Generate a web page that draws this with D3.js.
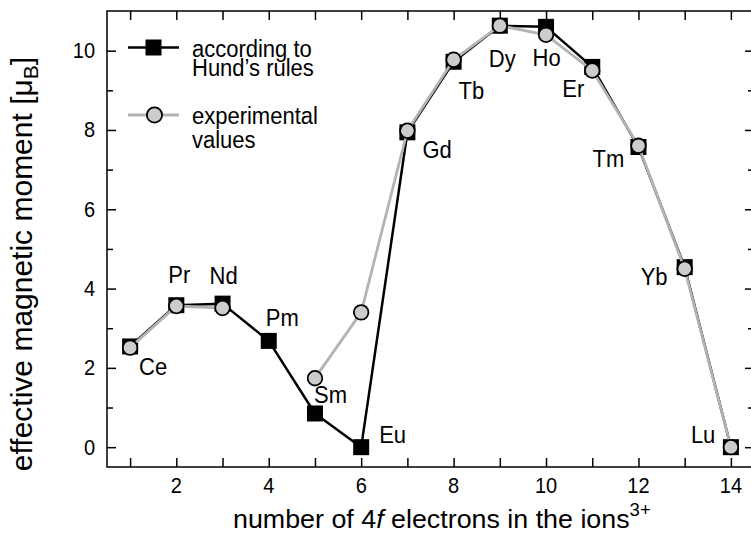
<!DOCTYPE html>
<html>
<head>
<meta charset="utf-8">
<script src="https://cdn.jsdelivr.net/npm/d3@7"></script>
<style>
  html, body { margin: 0; padding: 0; background: #fff; }
  svg { display: block; font-family: "Liberation Sans", Arial, sans-serif; }
</style>
</head>
<body>
<svg id="chart" width="751" height="539"></svg>
<script>
// Rare-earth ions, number of 4f electrons
const elements = ["Ce","Pr","Nd","Pm","Sm","Eu","Gd","Tb","Dy","Ho","Er","Tm","Yb","Lu"];
const electrons = [1,2,3,4,5,6,7,8,9,10,11,12,13,14];
// effective moment from Hund's rules (μB)
const hundValues = [2.54,3.58,3.62,2.68,0.85,0.00,7.94,9.72,10.63,10.60,9.59,7.57,4.54,0.00];
// measured effective moment (μB); no value for Pm
const expValues = [2.51,3.56,3.51,null,1.74,3.40,7.98,9.77,10.63,10.40,9.50,7.60,4.50,0.00];
const xTickValues = [2,4,6,8,10,12,14];
const yTickValues = [0,2,4,6,8,10];

// label placement relative to the Hund's-rule point (pixels)
const labelDx = [9,-8,-13,-3,-1,18,15,5,-11,-13.5,-30,-46,-44,-40];
const labelDy = [29,-22,-20,-15,-10,-4,26,37,41,39.5,30,20,18,-4];

const svg = d3.select("#chart");
const frame = {left: 107, top: 11, right: 754, bottom: 467};
const textStretch = 1.07;   // glyphs are slightly taller than wide

const x = d3.scaleLinear().domain([0.5, 14.5]).range([frame.left, frame.right]);
const y = d3.scaleLinear().domain([-0.5, 11]).range([frame.bottom, frame.top]);

const black = "#000";
const gray = "#b3b3b3";
const fillGray = "#cccccc";

// places a horizontal text with its baseline at (px, py)
const placeText = (sel, px, py) =>
  sel.attr("transform", (d, i) => `translate(${px(d, i)},${py(d, i)}) scale(1,${textStretch})`);

// axes: inward ticks on all four sides
const xMajor = 9, yMajor = 9, yMinor = 6;
const xAllTicks = d3.range(1, 15);
const yMinorTicks = [1,3,5,7,9];

const axisStyle = g => {
  g.select(".domain").remove();
  g.selectAll("line").attr("stroke", black).attr("stroke-width", 1.5);
};

svg.append("g")
  .attr("transform", `translate(0,${frame.bottom})`)
  .call(d3.axisBottom(x).tickValues(xAllTicks).tickSizeInner(-xMajor).tickSizeOuter(0).tickFormat(""))
  .call(axisStyle);
svg.append("g")
  .attr("transform", `translate(0,${frame.top})`)
  .call(d3.axisTop(x).tickValues(xAllTicks).tickSizeInner(-xMajor).tickSizeOuter(0).tickFormat(""))
  .call(axisStyle);
svg.append("g")
  .attr("transform", `translate(${frame.left},0)`)
  .call(d3.axisLeft(y).tickValues(yTickValues).tickSizeInner(-yMajor).tickSizeOuter(0).tickFormat(""))
  .call(axisStyle);
svg.append("g")
  .attr("transform", `translate(${frame.left},0)`)
  .call(d3.axisLeft(y).tickValues(yMinorTicks).tickSizeInner(-yMinor).tickSizeOuter(0).tickFormat(""))
  .call(axisStyle);
svg.append("g")
  .attr("transform", `translate(${frame.right},0)`)
  .call(d3.axisRight(y).tickValues(yTickValues).tickSizeInner(-yMajor).tickSizeOuter(0).tickFormat(""))
  .call(axisStyle);
svg.append("g")
  .attr("transform", `translate(${frame.right},0)`)
  .call(d3.axisRight(y).tickValues(yMinorTicks).tickSizeInner(-yMinor).tickSizeOuter(0).tickFormat(""))
  .call(axisStyle);

svg.append("rect")
  .attr("x", frame.left).attr("y", frame.top)
  .attr("width", frame.right - frame.left).attr("height", frame.bottom - frame.top)
  .attr("fill", "none").attr("stroke", black).attr("stroke-width", 1.5);

// tick labels
svg.append("g").selectAll("text").data(xTickValues).join("text")
  .call(placeText, d => x(d), () => 493)
  .attr("text-anchor", "middle").attr("font-size", 20).attr("fill", black)
  .text(d => d);
svg.append("g").selectAll("text").data(yTickValues).join("text")
  .call(placeText, () => 95, d => y(d) + 7.5)
  .attr("text-anchor", "end").attr("font-size", 20).attr("fill", black)
  .text(d => d);

// axis titles
const xt = svg.append("text")
  .attr("font-size", 26).attr("fill", black);
xt.append("tspan").text("number of 4");
xt.append("tspan").attr("font-style", "italic").text("f");
xt.append("tspan").text(" electrons in the ions");
xt.append("tspan").attr("font-size", 18).attr("dy", -12).text("3+");
// stretch the title so it spans 233 → 651 along the axis
const xtWidth = xt.node().getBBox().width;
xt.attr("transform", `translate(233,528) scale(${418 / xtWidth},1)`);

const yt = svg.append("text")
  .attr("transform", "translate(32,264) rotate(-90)")
  .attr("text-anchor", "middle").attr("font-size", 30).attr("fill", black);
yt.append("tspan").text("effective magnetic moment  [μ");
yt.append("tspan").attr("font-size", 21).attr("dy", 6).text("B");
yt.append("tspan").attr("dy", -6).text("]");

// data
const hund = electrons.map((n, i) => ({n, v: hundValues[i], el: elements[i], i}));
const expt = electrons.map((n, i) => ({n, v: expValues[i]}));

const line = d3.line().defined(d => d.v !== null).x(d => x(d.n)).y(d => y(d.v));

const sq = 16;
svg.append("path").datum(hund).attr("d", line)
  .attr("fill", "none").attr("stroke", black).attr("stroke-width", 2.5).attr("stroke-linejoin", "round");
svg.append("g").selectAll("rect").data(hund).join("rect")
  .attr("x", d => x(d.n) - sq / 2).attr("y", d => y(d.v) - sq / 2)
  .attr("width", sq).attr("height", sq).attr("fill", black);

svg.append("path").datum(expt).attr("d", line)
  .attr("fill", "none").attr("stroke", gray).attr("stroke-width", 2.8).attr("stroke-linejoin", "round");
svg.append("g").selectAll("circle").data(expt.filter(d => d.v !== null)).join("circle")
  .attr("cx", d => x(d.n)).attr("cy", d => y(d.v)).attr("r", 7.3)
  .attr("fill", fillGray).attr("stroke", black).attr("stroke-width", 1.8);

// element labels
svg.append("g").selectAll("text").data(hund).join("text")
  .call(placeText, d => x(d.n) + labelDx[d.i], d => y(d.v) + labelDy[d.i])
  .attr("font-size", 22).attr("fill", black)
  .text(d => d.el);

// legend
const lg = svg.append("g");
lg.append("line").attr("x1", 128).attr("x2", 179).attr("y1", 47.5).attr("y2", 47.5)
  .attr("stroke", black).attr("stroke-width", 2.5);
lg.append("rect").attr("x", 153.5 - sq / 2).attr("y", 47.5 - sq / 2).attr("width", sq).attr("height", sq).attr("fill", black);
lg.append("line").attr("x1", 128).attr("x2", 179).attr("y1", 115).attr("y2", 115)
  .attr("stroke", gray).attr("stroke-width", 2.8);
lg.append("circle").attr("cx", 154.5).attr("cy", 115).attr("r", 7.6)
  .attr("fill", fillGray).attr("stroke", black).attr("stroke-width", 1.8);

const legendLines = ["according to", "Hund’s rules", "experimental", "values"];
const legendBaselines = [56.5, 76, 124, 148];
lg.selectAll("text").data(legendLines).join("text")
  .call(placeText, () => 192, (d, i) => legendBaselines[i])
  .attr("font-size", 22).attr("fill", black)
  .text(d => d);
</script>
</body>
</html>
